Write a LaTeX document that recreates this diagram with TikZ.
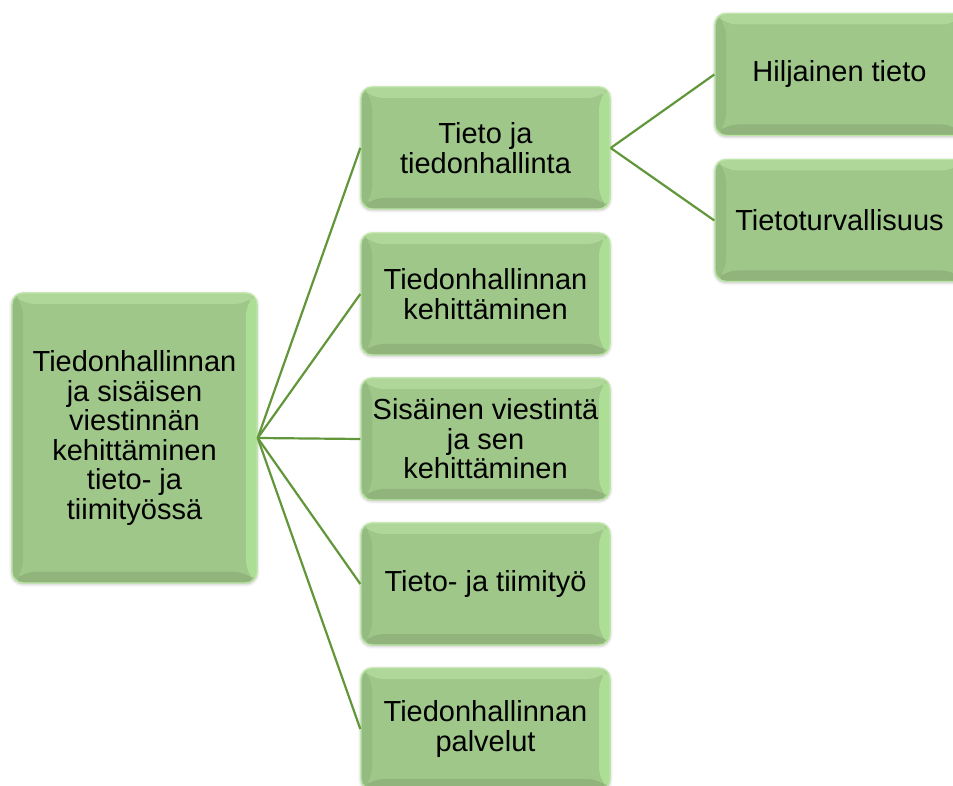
\documentclass[tikz,border=0pt]{standalone}
\usepackage{fontspec}
\setmainfont{Liberation Sans}
\usetikzlibrary{shadows.blur}

\definecolor{boxbase}{RGB}{160,199,138}
\definecolor{bvtop}{RGB}{176,215,154}
\definecolor{bvright}{RGB}{172,222,150}
\definecolor{bvleft}{RGB}{148,188,128}
\definecolor{bvbottom}{RGB}{144,180,124}
\definecolor{boxedge}{RGB}{188,230,164}
\definecolor{linkgreen}{RGB}{98,150,58}

\tikzset{
  bevelbox/.style={
    rectangle, rounded corners=11pt,
    minimum width=249pt, minimum height=122pt,
    inner sep=0pt, align=center, text=black,
    font=\fontsize{29}{29.5}\selectfont,
    fill=boxbase, draw=boxedge, line width=1.4pt,
    blur shadow={shadow xshift=0pt, shadow yshift=-1pt,
                 shadow blur radius=3pt, shadow opacity=30},
    path picture={
      \path (path picture bounding box.north west) coordinate (bnw)
            (path picture bounding box.north east) coordinate (bne)
            (path picture bounding box.south west) coordinate (bsw)
            (path picture bounding box.south east) coordinate (bse);
      % four bevel bands around the face
      \fill[bvtop] (bnw) -- (bne) -- ([xshift=-11pt,yshift=-11pt]bne)
                   -- ([xshift=11pt,yshift=-11pt]bnw) -- cycle;
      \fill[bvright] (bne) -- (bse) -- ([xshift=-11pt,yshift=11pt]bse)
                   -- ([xshift=-11pt,yshift=-11pt]bne) -- cycle;
      \fill[bvbottom] (bsw) -- (bse) -- ([xshift=-11pt,yshift=11pt]bse)
                   -- ([xshift=11pt,yshift=11pt]bsw) -- cycle;
      \fill[bvleft] (bnw) -- (bsw) -- ([xshift=11pt,yshift=11pt]bsw)
                   -- ([xshift=11pt,yshift=-11pt]bnw) -- cycle;
    }
  },
  link/.style={draw=linkgreen, line width=2.2pt}
}

\begin{document}
\begin{tikzpicture}[x=1pt,y=1pt]
\useasboundingbox (0,0) rectangle (953,785);
\clip (0,0) rectangle (953,785);

% root
\node[bevelbox, minimum width=245pt, minimum height=290pt] (root) at (134.5,347)
  {Tiedonhallinnan\\ja sisäisen\\viestinnän\\kehittäminen\\tieto- ja\\tiimityössä};

% second level
\node[bevelbox] (m1) at (485.5,637) {Tieto ja\\tiedonhallinta};
\node[bevelbox] (m2) at (485.5,491) {Tiedonhallinnan\\kehittäminen};
\node[bevelbox] (m3) at (485.5,346) {Sisäinen viestintä\\ja sen\\kehittäminen};
\node[bevelbox] (m4) at (485.5,201) {Tieto- ja tiimityö};
\node[bevelbox] (m5) at (485.5,56) {Tiedonhallinnan\\palvelut};

% third level
\node[bevelbox] (r1) at (839.5,710.5) {Hiljainen tieto};
\node[bevelbox] (r2) at (839.5,564.5) {Tietoturvallisuus};

% connectors
\foreach \m in {m1,m2,m3,m4,m5}
  \draw[link] (root.east) -- (\m.west);
\draw[link] (m1.east) -- (r1.west);
\draw[link] (m1.east) -- (r2.west);
\end{tikzpicture}
\end{document}
